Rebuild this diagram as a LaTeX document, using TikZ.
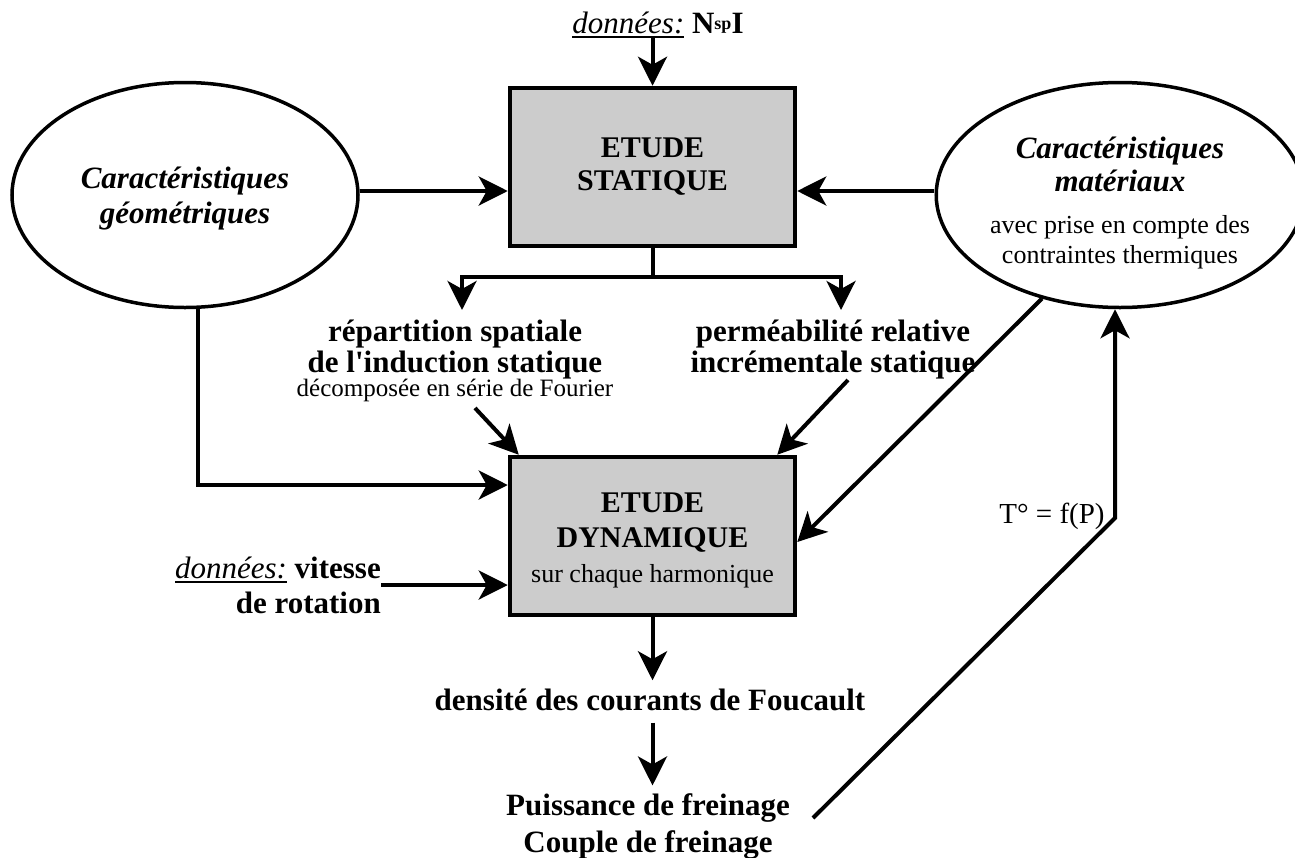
\documentclass[tikz,border=0pt]{standalone}
\usepackage{fontspec}
\setmainfont{Liberation Serif}[Ligatures=TeXOff]
\usetikzlibrary{arrows.meta,shapes.geometric}
\definecolor{boxgray}{gray}{0.8}
\newcommand{\myul}[1]{\setbox0\hbox{#1}\rlap{\rule[-4.5pt]{\wd0}{2pt}}\box0\relax}
\newcommand{\tightls}{\lineskiplimit=-40pt\relax}
\begin{document}
\begin{tikzpicture}[x=1pt,y=-1pt,
  arr/.style={line width=4pt, -{Stealth[length=29pt,width=29pt,inset=8pt]}},
  ln/.style={line width=4pt},
  proc/.style={draw, line width=4.5pt, fill=boxgray, minimum width=285pt, minimum height=158pt,
     align=center, inner sep=0pt, font={\fontsize{30}{35}\selectfont\bfseries}},
  ell/.style={draw, ellipse, line width=3.5pt, minimum width=346pt, minimum height=225pt,
     inner sep=0pt, align=center},
  lbl/.style={inner sep=0pt, align=center, font={\fontsize{31}{31}\selectfont\bfseries\tightls}},
]
\useasboundingbox (0,0) rectangle (1295,857);

% boxes
\node[proc] (stat) at (652.5,167) {ETUDE\\[-2pt]STATIQUE};
\node[proc] (dyn) at (652.5,536) {\rule{0pt}{28pt}ETUDE\\DYNAMIQUE\\{\fontsize{26}{30}\selectfont\mdseries sur chaque harmonique}};

% ellipses
\node[ell, font={\fontsize{31}{35}\selectfont\bfseries\itshape}] (geo) at (185,195)
  {\rule{0pt}{28pt}Caractéristiques\\géométriques};
\node[ell, font={\fontsize{31}{33}\selectfont\bfseries\itshape\tightls}] (mat) at (1120,195)
  {\rule{0pt}{37pt}Caractéristiques\\matériaux\\[9pt]{\fontsize{26}{30}\selectfont\mdseries\upshape avec prise en compte des}\\[-3pt]{\fontsize{26}{30}\selectfont\mdseries\upshape contraintes thermiques}};

% labels
\node[lbl, anchor=base] (dataA) at (658,33)
  {\myul{\mdseries\itshape données:} N\raisebox{4pt}{\fontsize{18}{18}\selectfont sp}I};
\node[lbl] (rep) at (455,361)
  {répartition spatiale\\de l'induction statique\\[-7pt]{\fontsize{25}{25}\selectfont\mdseries décomposée en série de Fourier}};
\node[lbl] (perm) at (833,350) {perméabilité relative\\incrémentale statique};
\node[lbl, align=right, anchor=east, font={\fontsize{31}{35}\selectfont\bfseries}] (vit) at (381,585)
  {\myul{\mdseries\itshape données:} vitesse\\de rotation};
\node[lbl, anchor=base] (dens) at (650,710) {densité des courants de Foucault};
\node[lbl, font={\fontsize{31}{37}\selectfont\bfseries}] (puis) at (648,826.5) {Puissance de freinage\\Couple de freinage};
\node[lbl, anchor=base, font={\fontsize{29}{29}\selectfont}] (tlab) at (1052,523) {T° = f(P)};

% coordinates for free ends
\coordinate (inA) at (652.5,38);
\coordinate (split) at (652.5,277);
\coordinate (tipL) at (462,310);
\coordinate (tipR) at (841,310);
\coordinate (dL) at (475,408);
\coordinate (dR) at (848,380);
\coordinate (tS) at (813,818);
\coordinate (tB) at (1115,518);

% connectors
\draw[arr] (inA) -- (stat.north);
\draw[arr] ([yshift=4pt]geo.east) -- ([yshift=4pt]geo.east -| stat.west);
\draw[arr] ([yshift=4pt]mat.west) -- ([yshift=4pt]mat.west -| stat.east);
\draw[ln] (stat.south) -- (split);
\draw[arr] (split) -| (tipL);
\draw[arr] (split) -| (tipR);
\draw[arr] (dL) -- ([xshift=11pt]dyn.north west);
\draw[arr] (dR) -- ([xshift=-20pt]dyn.north east);
\draw[arr] (mat.233) -- ([yshift=-6pt]dyn.east);
\draw[arr] ([xshift=13pt]geo.south) |- ([yshift=51pt]dyn.west);
\draw[arr] (vit.east) -- (vit.east -| dyn.west);
\draw[arr, shorten >=8pt] (dyn.south) -- (dyn.south |- dens.north);
\draw[arr, shorten <=12pt, shorten >=8pt] (dyn.south |- dens.south) -- (dyn.south |- puis.north);
\draw[arr] (tS) -- (tB) -- (tB |- mat.south);
\end{tikzpicture}
\end{document}
